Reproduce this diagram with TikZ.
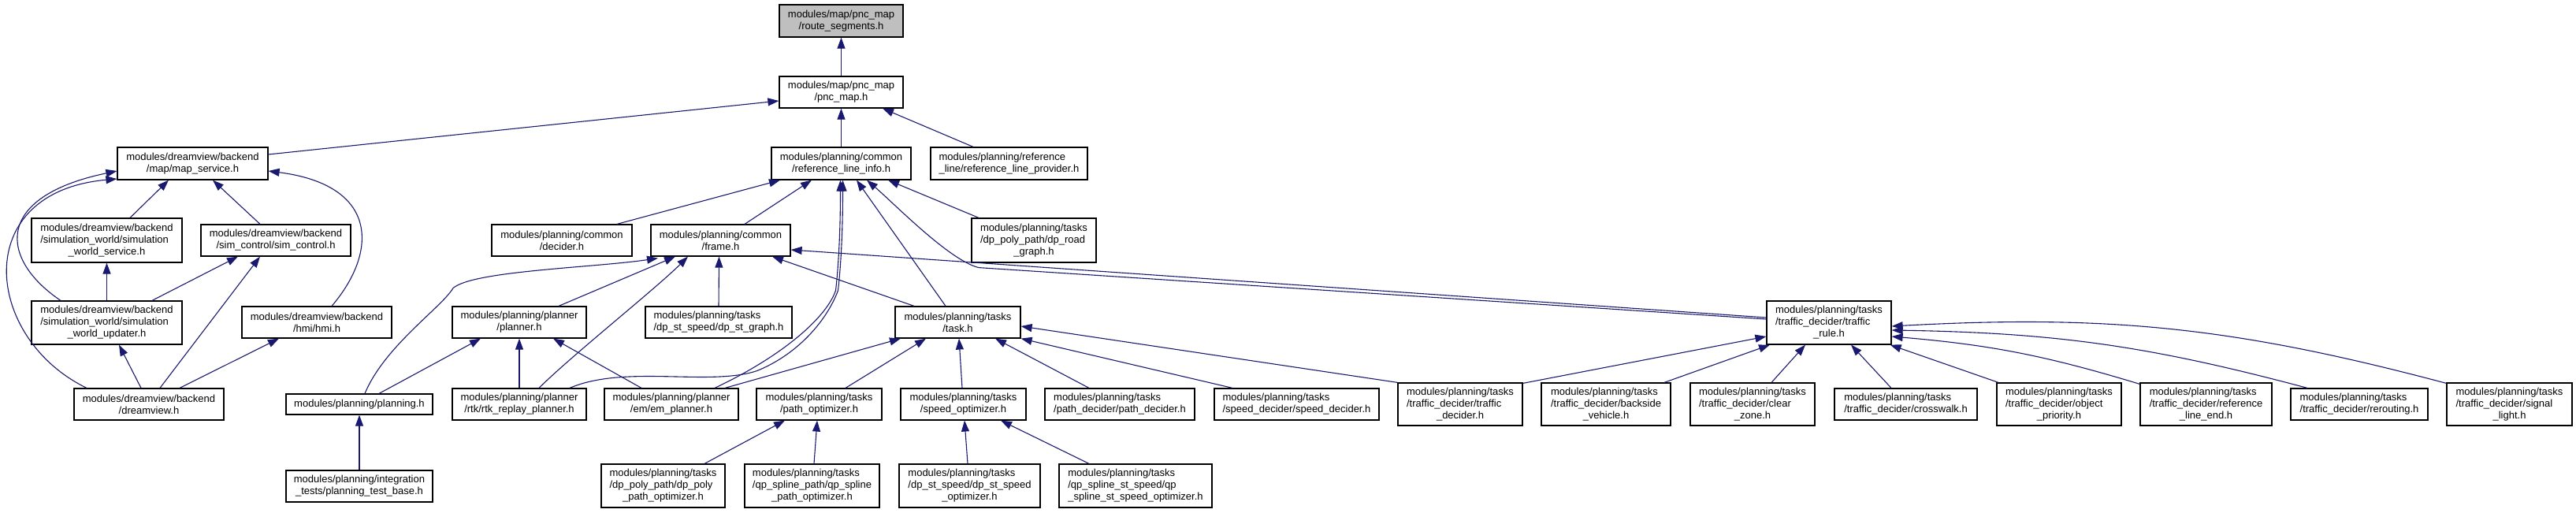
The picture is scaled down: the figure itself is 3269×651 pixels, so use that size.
\documentclass[tikz,border=0pt]{standalone}
\usepackage{fontspec}
\setmainfont{Liberation Sans}
\usepackage{tikz}
\usetikzlibrary{arrows.meta,calc}
\definecolor{edgeBlue}{RGB}{25,25,112}
\definecolor{fileGray}{RGB}{191,191,191}
% last line of a label is centred, the others flush left
\def\lastln#1{\hfill#1\hfill\mbox{}}
\tikzset{
  hfile/.style={draw=black, fill=white, line width=0.6pt, inner sep=0pt, align=left,
    font=\fontsize{6.5}{7.5}\selectfont},
  wh/.style 2 args={minimum width=#1pt, minimum height=#2pt},
  dep/.style={draw=edgeBlue, line width=0.55pt, -{Triangle[length=7pt,width=5pt]}}
}

\begin{document}
\begin{tikzpicture}[x=0.5pt, y=-0.5pt]
\useasboundingbox (0,0) rectangle (3269,651);
% units: 1 = one pixel of the 3269x651 picture, y grows downwards
% top of the graph
\node[hfile, wh={78.5}{20.5}, fill=fileGray] (rseg) at (1067.5,26.5) {modules/map/pnc\_map\\\lastln{/route\_segments.h}};
\node[hfile, wh={78.5}{20}] (pncmap) at (1067.5,117) {modules/map/pnc\_map\\\lastln{/pnc\_map.h}};
% row 3
\node[hfile, wh={95.5}{20.5}] (mapsvc) at (244.5,207.5) {modules/dreamview/backend\\\lastln{/map/map\_service.h}};
\node[hfile, wh={88.5}{20.5}] (rlinfo) at (1067.5,207.5) {modules/planning/common\\\lastln{/reference\_line\_info.h}};
\node[hfile, wh={99.5}{20.5}] (rlprov) at (1280.5,207.5) {modules/planning/reference\\\lastln{\_line/reference\_line\_provider.h}};
% row 4
\node[hfile, wh={95.5}{28}] (simsvc) at (135.5,305) {modules/dreamview/backend\\/simulation\_world/simulation\\\lastln{\_world\_service.h}};
\node[hfile, wh={95}{20}] (simctl) at (350,305) {modules/dreamview/backend\\\lastln{/sim\_control/sim\_control.h}};
\node[hfile, wh={89}{20}] (decider) at (713,305) {modules/planning/common\\\lastln{/decider.h}};
\node[hfile, wh={88.5}{20}] (frame) at (914.5,305) {modules/planning/common\\\lastln{/frame.h}};
\node[hfile, wh={79}{28}] (dproad) at (1312,305) {modules/planning/tasks\\/dp\_poly\_path/dp\_road\\\lastln{\_graph.h}};
% row 5
\node[hfile, wh={95.5}{27.5}] (simupd) at (135.5,409.5) {modules/dreamview/backend\\/simulation\_world/simulation\\\lastln{\_world\_updater.h}};
\node[hfile, wh={95}{20}] (hmi) at (402,409) {modules/dreamview/backend\\\lastln{/hmi/hmi.h}};
\node[hfile, wh={85}{20}] (planner) at (659,409) {modules/planning/planner\\\lastln{/planner.h}};
\node[hfile, wh={93}{20}] (dpstgraph) at (912,409) {modules/planning/tasks\\\lastln{/dp\_st\_speed/dp\_st\_graph.h}};
\node[hfile, wh={79.5}{20}] (task) at (1215.5,409) {modules/planning/tasks\\\lastln{/task.h}};
\node[hfile, wh={79}{27.5}] (trule) at (2321,409.5) {modules/planning/tasks\\/traffic\_decider/traffic\\\lastln{\_rule.h}};
% row 6
\node[hfile, wh={95}{20}] (dview) at (189,513) {modules/dreamview/backend\\\lastln{/dreamview.h}};
\node[hfile, wh={93}{13}] (planning) at (456,513) {modules/planning/planning.h};
\node[hfile, wh={85}{20}] (rtk) at (659,513) {modules/planning/planner\\\lastln{/rtk/rtk\_replay\_planner.h}};
\node[hfile, wh={85}{20}] (em) at (852,513) {modules/planning/planner\\\lastln{/em/em\_planner.h}};
\node[hfile, wh={79.5}{20}] (pathopt) at (1039.5,513) {modules/planning/tasks\\\lastln{/path\_optimizer.h}};
\node[hfile, wh={79.5}{20}] (speedopt) at (1222.5,513) {modules/planning/tasks\\\lastln{/speed\_optimizer.h}};
\node[hfile, wh={95}{20}] (pathdec) at (1421,513) {modules/planning/tasks\\\lastln{/path\_decider/path\_decider.h}};
\node[hfile, wh={104.5}{20}] (speeddec) at (1645.5,513) {modules/planning/tasks\\\lastln{/speed\_decider/speed\_decider.h}};
\node[hfile, wh={79}{27}] (tdecider) at (1853,513) {modules/planning/tasks\\/traffic\_decider/traffic\\\lastln{\_decider.h}};
\node[hfile, wh={82}{27}] (backside) at (2038,513) {modules/planning/tasks\\/traffic\_decider/backside\\\lastln{\_vehicle.h}};
\node[hfile, wh={79}{27}] (clearzone) at (2224,513) {modules/planning/tasks\\/traffic\_decider/clear\\\lastln{\_zone.h}};
\node[hfile, wh={90.5}{20}] (crosswalk) at (2418.5,513) {modules/planning/tasks\\\lastln{/traffic\_decider/crosswalk.h}};
\node[hfile, wh={79}{27}] (objprio) at (2613,513) {modules/planning/tasks\\/traffic\_decider/object\\\lastln{\_priority.h}};
\node[hfile, wh={83.5}{27}] (rlend) at (2799.5,513) {modules/planning/tasks\\/traffic\_decider/reference\\\lastln{\_line\_end.h}};
\node[hfile, wh={87}{20}] (rerouting) at (2994,513) {modules/planning/tasks\\\lastln{/traffic\_decider/rerouting.h}};
\node[hfile, wh={79.5}{27}] (siglight) at (3184.5,513) {modules/planning/tasks\\/traffic\_decider/signal\\\lastln{\_light.h}};
% bottom row
\node[hfile, wh={93}{20}] (ptbase) at (456,617) {modules/planning/integration\\\lastln{\_tests/planning\_test\_base.h}};
\node[hfile, wh={78.5}{27.5}] (dppoly) at (841.5,616.5) {modules/planning/tasks\\/dp\_poly\_path/dp\_poly\\\lastln{\_path\_optimizer.h}};
\node[hfile, wh={85.5}{27.5}] (qppath) at (1030.5,616.5) {modules/planning/tasks\\/qp\_spline\_path/qp\_spline\\\lastln{\_path\_optimizer.h}};
\node[hfile, wh={89.5}{27.5}] (dpstspeed) at (1230.5,616.5) {modules/planning/tasks\\/dp\_st\_speed/dp\_st\_speed\\\lastln{\_optimizer.h}};
\node[hfile, wh={97}{27.5}] (qpstspeed) at (1441,616.5) {modules/planning/tasks\\/qp\_spline\_st\_speed/qp\\\lastln{\_spline\_st\_speed\_optimizer.h}};

% includes of the map part
\draw[dep] (pncmap.north) -- (rseg.south);
\draw[dep] ($(mapsvc.east)+(0,-11.5)$) -- ($(pncmap.west)+(0,11)$);
\draw[dep] (rlinfo.north) -- (pncmap.south);
\draw[dep] ($(rlprov.north)+(-45.5,0)$) -- ($(pncmap.south)+(52.5,0)$);
% dreamview backend
\draw[dep] ($(simsvc.north)+(29.5,0)$) -- ($(mapsvc.south)+(-30.5,0)$);
\draw[dep] ($(simctl.north)+(-20,0)$) -- ($(mapsvc.south)+(25.5,0)$);
\draw[dep] ($(hmi.north)+(19,0)$) .. controls +(59,-69) and +(140,18) .. ($(mapsvc.east)+(0,9.5)$);
\draw[dep] ($(simupd.north)+(-58.5,0)$) .. controls +(-77,-52) and +(-158,33) .. ($(mapsvc.west)+(0,9.5)$);
\draw[dep] ($(dview.north)+(-79,0)$) .. controls +(-130,-63) and +(-188,17) .. ($(mapsvc.west)+(0,19.5)$);
\draw[dep] (simupd.north) -- (simsvc.south);
\draw[dep] ($(simupd.north)+(57.5,0)$) -- ($(simctl.south)+(-48,0)$);
\draw[dep] ($(dview.north)+(14,0)$) -- ($(simctl.south)+(-20,0)$);
\draw[dep] ($(dview.north)+(-10,0)$) -- ($(simupd.south)+(15.5,0)$);
\draw[dep] ($(dview.north)+(39,0)$) -- ($(hmi.south)+(-48,0)$);
% reference_line_info
\draw[dep] ($(decider.north)+(70,0)$) -- ($(rlinfo.south)+(-77.5,0)$);
\draw[dep] ($(frame.north)+(30.5,0)$) -- ($(rlinfo.south)+(-37.5,0)$);
\draw[dep] ($(em.north)+(55,0)$) .. controls +(85,-40) and +(-12,35) .. ($(rlinfo.south)+(-7,140)$)
  .. controls +(4,-35) and +(0,60) .. ($(rlinfo.south)+(-1,0)$);
\draw[dep] ($(rtk.north)+(64,0)$) .. controls +(70,-30) and +(-60,20) .. ($(rlinfo.south)+(-107,242)$)
  .. controls +(50,-20) and +(-15,40) .. ($(rlinfo.south)+(-4,140)$)
  .. controls +(4,-35) and +(0,60) .. ($(rlinfo.south)+(2,0)$);
\draw[dep] ($(task.north)+(-15.5,0)$) -- ($(rlinfo.south)+(19.5,0)$);
\draw[dep] ($(trule.west)+(0,-4.5)$) -- ($(rlinfo.south)+(174.5,111)$)
  .. controls +(-37,-9) and +(35,30) .. ($(rlinfo.south)+(32.5,0)$);
\draw[dep] ($(dproad.north)+(-70,0)$) -- ($(rlinfo.south)+(59.5,0)$);
% frame
\draw[dep] ($(planning.north)+(7,0)$) .. controls +(25,-60) and +(-15,25) .. ($(frame.south)+(-339.5,40)$)
  .. controls +(25,-22) and +(-80,12) .. ($(frame.south)+(-79.5,2)$);
\draw[dep] ($(planner.north)+(50,0)$) -- ($(frame.south)+(-57.5,0)$);
\draw[dep] ($(rtk.north)+(25,0)$) .. controls +(40,-40) and +(-40,40) .. ($(frame.south)+(-41.5,0)$);
\draw[dep] (dpstgraph.north) -- ($(frame.south)+(-2,0)$);
\draw[dep] ($(task.north)+(-55.5,0)$) -- ($(frame.south)+(65.5,0)$);
\draw[dep] ($(trule.west)+(0,-6.5)$) -- ($(frame.east)+(0,12)$);
% planner and planning
\draw[dep] ($(planning.north)+(25,0)$) -- ($(planner.south)+(-49,0)$);
\draw[dep] (ptbase.north) -- (planning.south);
\draw[dep] (rtk.north) -- (planner.south);
\draw[dep] ($(em.north)+(-38,0)$) -- ($(planner.south)+(43,0)$);
% task
\draw[dep] ($(em.north)+(68,0)$) -- ($(task.south)+(-72.5,0)$);
\draw[dep] ($(pathopt.north)+(33.5,0)$) -- ($(task.south)+(-40.5,0)$);
\draw[dep] ($(speedopt.north)+(-1.5,0)$) -- ($(task.south)+(1.5,0)$);
\draw[dep] ($(pathdec.north)+(-39,0)$) -- ($(task.south)+(47.5,0)$);
\draw[dep] ($(speeddec.north)+(-81.5,0)$) -- (task.south east);
\draw[dep] (tdecider.north west) -- ($(task.east)+(0,5)$);
% traffic_rule
\draw[dep] ($(tdecider.north east)+(0,1)$) -- ($(trule.west)+(0,17.5)$);
\draw[dep] ($(backside.north)+(74,0)$) -- ($(trule.south)+(-75,0)$);
\draw[dep] ($(clearzone.north)+(24,0)$) -- ($(trule.south)+(-30,0)$);
\draw[dep] ($(crosswalk.north)+(-18.5,0)$) -- ($(trule.south)+(28,0)$);
\draw[dep] ($(objprio.north)+(-77,0)$) -- ($(trule.south east)+(-2,0)$);
\draw[dep] ($(rlend.north west)+(0,2)$) to[bend right=6] ($(trule.east)+(0,17.5)$);
\draw[dep] ($(rerouting.north)+(-66,0)$) to[bend right=7] ($(trule.east)+(0,9.5)$);
\draw[dep] ($(siglight.north west)+(0,1)$) to[bend right=9] ($(trule.east)+(0,4.5)$);
% optimizers
\draw[dep] ($(dppoly.north)+(52.5,0)$) -- ($(pathopt.south)+(-43.5,0)$);
\draw[dep] ($(qppath.north)+(2.5,0)$) -- ($(pathopt.south)+(-2.5,0)$);
\draw[dep] ($(dpstspeed.north)+(-2.5,0)$) -- ($(speedopt.south)+(1.5,0)$);
\draw[dep] ($(qpstspeed.north)+(-59,0)$) -- ($(speedopt.south)+(47.5,0)$);
\end{tikzpicture}
\end{document}
